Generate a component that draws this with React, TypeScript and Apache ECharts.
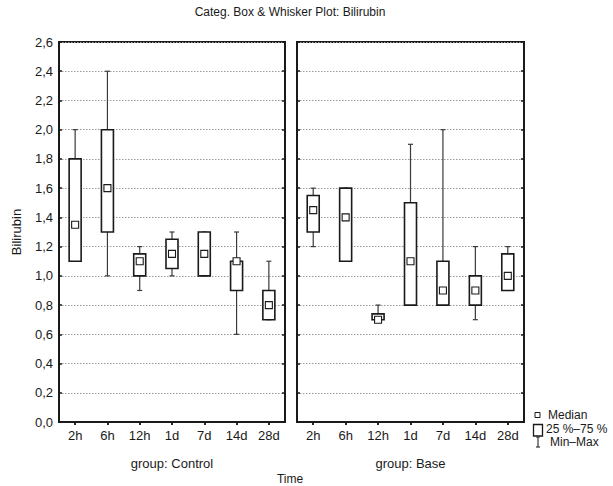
import React, { useEffect, useRef } from "react";
import * as echarts from "echarts";

const categories = ["2h", "6h", "12h", "1d", "7d", "14d", "28d"];
// Control group
const controlMin = [1.1, 1.0, 0.9, 1.0, 1.0, 0.6, 0.7];
const controlQ1 = [1.1, 1.3, 1.0, 1.05, 1.0, 0.9, 0.7];
const controlMedian = [1.35, 1.6, 1.1, 1.15, 1.15, 1.1, 0.8];
const controlQ3 = [1.8, 2.0, 1.15, 1.25, 1.3, 1.1, 0.9];
const controlMax = [2.0, 2.4, 1.2, 1.3, 1.3, 1.3, 1.1];
// Base group
const baseMin = [1.2, 1.1, 0.7, 0.8, 0.8, 0.7, 0.9];
const baseQ1 = [1.3, 1.1, 0.7, 0.8, 0.8, 0.8, 0.9];
const baseMedian = [1.45, 1.4, 0.7, 1.1, 0.9, 0.9, 1.0];
const baseQ3 = [1.55, 1.6, 0.74, 1.5, 1.1, 1.0, 1.15];
const baseMax = [1.6, 1.6, 0.8, 1.9, 2.0, 1.2, 1.2];

const yTickLabels = ["0,0", "0,2", "0,4", "0,6", "0,8", "1,0", "1,2", "1,4", "1,6", "1,8", "2,0", "2,2", "2,4", "2,6"];

const FONT = "'Liberation Sans', Arial, sans-serif";
const INK = "#1a1a1a";

function build(mins: number[], q1: number[], med: number[], q3: number[], maxs: number[]) {
  return categories.map((_, i) => [i, mins[i], q1[i], med[i], q3[i], maxs[i]]);
}

const renderBox = (params: any, api: any) => {
  const x = api.value(0);
  const [cx, yMin] = api.coord([x, api.value(1)]);
  const yQ1 = api.coord([x, api.value(2)])[1];
  const yMed = api.coord([x, api.value(3)])[1];
  const yQ3 = api.coord([x, api.value(4)])[1];
  const yMax = api.coord([x, api.value(5)])[1];
  const hw = 6;
  const cap = 2.5;
  const ws = { stroke: "#3a3a3a", lineWidth: 1.2 };
  return {
    type: "group",
    children: [
      { type: "line", shape: { x1: cx, y1: yMax, x2: cx, y2: yQ3 }, style: ws },
      { type: "line", shape: { x1: cx, y1: yQ1, x2: cx, y2: yMin }, style: ws },
      { type: "line", shape: { x1: cx - cap, y1: yMax, x2: cx + cap, y2: yMax }, style: ws },
      { type: "line", shape: { x1: cx - cap, y1: yMin, x2: cx + cap, y2: yMin }, style: ws },
      {
        type: "rect",
        shape: { x: cx - hw, y: yQ3, width: hw * 2, height: yQ1 - yQ3 },
        style: { fill: "#fff", stroke: INK, lineWidth: 1.6 },
      },
      {
        type: "rect",
        shape: { x: cx - 3.5, y: yMed - 3.5, width: 7, height: 7 },
        style: { fill: "#fff", stroke: INK, lineWidth: 1.1 },
      },
    ],
  };
};

export default function App() {
  const ref = useRef<HTMLDivElement>(null);
  useEffect(() => {
    if (!ref.current) return;
    const chart = echarts.init(ref.current, null, { renderer: "svg" });
    const grids = [
      { left: 59, top: 42, width: 226, height: 380, show: true, borderColor: INK, borderWidth: 2, backgroundColor: "transparent" },
      { left: 297, top: 42, width: 227, height: 380, show: true, borderColor: INK, borderWidth: 2, backgroundColor: "transparent" },
    ];
    const yLabelFmt = (v: number) => yTickLabels[Math.round(v / 0.2)] ?? "";
    const xAxes: any[] = [];
    const yAxes: any[] = [];
    const names = ["group: Control", "group: Base"];
    for (let g = 0; g < 2; g++) {
      xAxes.push({
        type: "category",
        gridIndex: g,
        data: categories,
        position: "bottom",
        name: names[g],
        nameLocation: "middle",
        nameGap: 35,
        nameTextStyle: { fontFamily: FONT, fontSize: 13, color: INK },
        axisLine: { show: true, lineStyle: { color: INK, width: 2 } },
        axisTick: { show: true, alignWithLabel: true, inside: false, length: 3, lineStyle: { color: INK, width: 1.5 } },
        axisLabel: { fontFamily: FONT, fontSize: 13, color: INK, margin: 7, interval: 0 },
        splitLine: { show: false },
      });
      xAxes.push({
        type: "category",
        gridIndex: g,
        data: categories,
        position: "top",
        axisLine: { show: true, lineStyle: { color: INK, width: 2 } },
        axisTick: { show: true, alignWithLabel: true, inside: true, length: 3, lineStyle: { color: INK, width: 1.5 } },
        axisLabel: { show: false },
        splitLine: { show: false },
      });
      yAxes.push({
        type: "value",
        gridIndex: g,
        min: 0,
        max: 2.6,
        interval: 0.2,
        position: "left",
        name: g === 0 ? "Bilirubin" : "",
        nameLocation: "middle",
        nameGap: 36,
        nameTextStyle: { fontFamily: FONT, fontSize: 13, color: INK },
        axisLine: { show: true, lineStyle: { color: INK, width: 2 } },
        axisTick: { show: true, inside: true, length: 3, lineStyle: { color: INK, width: 1.5 } },
        axisLabel: { show: g === 0, formatter: yLabelFmt, fontFamily: FONT, fontSize: 13, color: INK, margin: 6 },
        splitLine: { show: true, lineStyle: { color: "#9a9a9a", type: [1.5, 1.5], width: 1 } },
      });
      yAxes.push({
        type: "value",
        gridIndex: g,
        min: 0,
        max: 2.6,
        interval: 0.2,
        position: "right",
        axisLine: { show: true, lineStyle: { color: INK, width: 2 } },
        axisTick: { show: true, inside: true, length: 3, lineStyle: { color: INK, width: 1.5 } },
        axisLabel: { show: false },
        splitLine: { show: false },
      });
    }
    chart.setOption({
      animation: false,
      backgroundColor: "#fff",
      grid: grids,
      xAxis: xAxes,
      yAxis: yAxes,
      series: [
        {
          type: "custom",
          name: "Control",
          xAxisIndex: 0,
          yAxisIndex: 0,
          renderItem: renderBox,
          encode: { x: 0, y: [1, 2, 3, 4, 5] },
          data: build(controlMin, controlQ1, controlMedian, controlQ3, controlMax),
          z: 5,
        },
        {
          type: "custom",
          name: "Base",
          xAxisIndex: 2,
          yAxisIndex: 2,
          renderItem: renderBox,
          encode: { x: 0, y: [1, 2, 3, 4, 5] },
          data: build(baseMin, baseQ1, baseMedian, baseQ3, baseMax),
          z: 5,
        },
      ],
      graphic: [
        {
          type: "text",
          x: 290,
          y: 12,
          style: {
            text: "Categ. Box & Whisker Plot: Bilirubin",
            fontFamily: FONT,
            fontSize: 12,
            fill: INK,
            textAlign: "center",
            textVerticalAlign: "middle",
          },
        },
        {
          type: "text",
          x: 290,
          y: 479,
          style: { text: "Time", fontFamily: FONT, fontSize: 12, fill: INK, textAlign: "center", textVerticalAlign: "middle" },
        },
        // legend
        { type: "rect", shape: { x: 535, y: 412.5, width: 5, height: 5 }, style: { fill: "#fff", stroke: INK, lineWidth: 1 } },
        { type: "text", x: 548, y: 415, style: { text: "Median", fontFamily: FONT, fontSize: 12, fill: INK, textVerticalAlign: "middle" } },
        { type: "rect", shape: { x: 533.5, y: 424.5, width: 9, height: 11.5 }, style: { fill: "#fff", stroke: INK, lineWidth: 1.3 } },
        { type: "text", x: 546, y: 428.5, style: { text: "25 %–75 %", fontFamily: FONT, fontSize: 12, fill: INK, textVerticalAlign: "middle" } },
        { type: "line", shape: { x1: 538, y1: 437, x2: 538, y2: 447 }, style: { stroke: "#3a3a3a", lineWidth: 1.2 } },
        { type: "line", shape: { x1: 536, y1: 437, x2: 540, y2: 437 }, style: { stroke: "#3a3a3a", lineWidth: 1.2 } },
        { type: "line", shape: { x1: 536, y1: 447, x2: 540, y2: 447 }, style: { stroke: "#3a3a3a", lineWidth: 1.2 } },
        { type: "text", x: 550, y: 442, style: { text: "Min–Max", fontFamily: FONT, fontSize: 12, fill: INK, textVerticalAlign: "middle" } },
      ],
    });
    return () => chart.dispose();
  }, []);
  return <div ref={ref} style={{ position: "fixed", left: 0, top: 0, width: 613, height: 486 }} />;
}
